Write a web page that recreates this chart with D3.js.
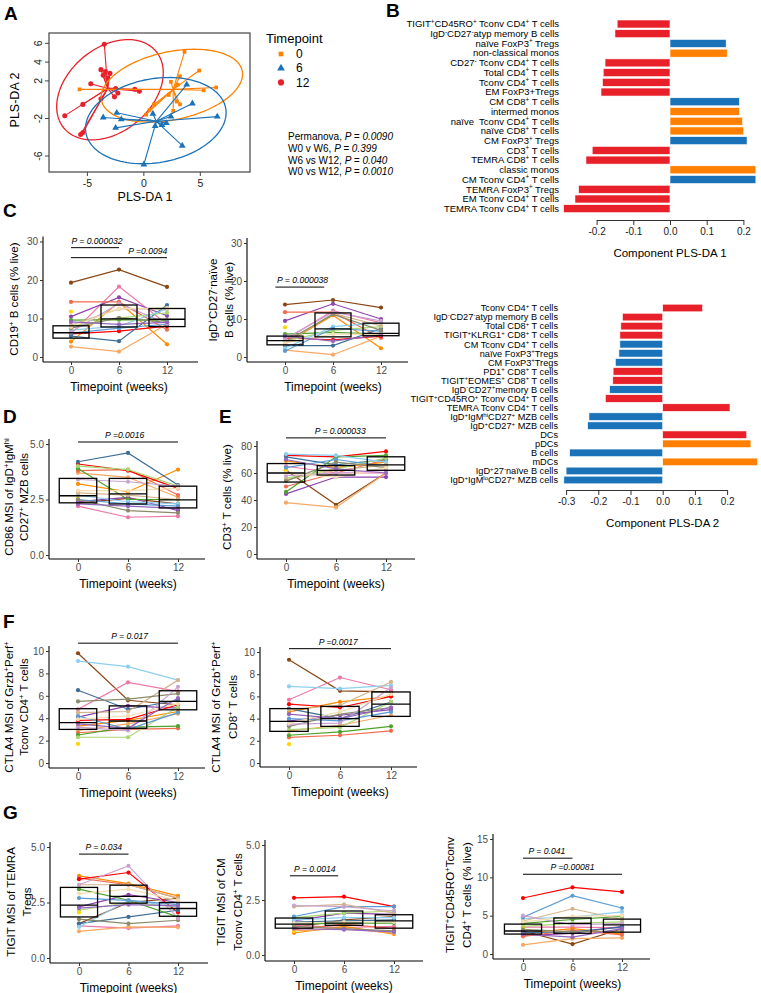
<!DOCTYPE html>
<html><head><meta charset="utf-8">
<script src="https://cdn.jsdelivr.net/npm/d3@7"></script>
<style>body{margin:0;background:#fff}svg{display:block;font-family:"Liberation Sans",Arial,Helvetica,sans-serif}</style>
</head><body><svg id="c" width="761" height="993"></svg>
<script>
// ---------------- DATA ----------------
const tpLabels = ["0", "6", "12"];
const tpColor = {"0": "#FF8000", "6": "#1A72B8", "12": "#E8202A"};

// Panel A: PLS-DA scores (component 1, component 2)
const pls0Points = [[3.6,5.1],[4.9,3.1],[3.2,2.5],[2.4,1.9],[-5.7,1.1],[5.3,1.0],[6.4,1.3],[0.9,-0.5],[0.5,-1.1],[0.2,-1.6],[3.2,-0.5],[2.6,-1.2],[2.9,-0.2],[3.0,1.6],[2.2,0.5]];
const pls6Points = [[0,-6.9],[-3.6,-1.9],[-2.4,-1.4],[-2.5,-3.0],[-2.0,-2.1],[4.3,-0.4],[6.5,-1.8],[3.4,-4.9],[3.8,1.6],[0.8,-1.5],[2.0,-2.5],[1.6,-2.7],[1.0,-2.8],[2.4,-1.8]];
const pls12Points = [[-3.5,5.9],[-3.8,3.2],[-3.4,3.0],[-3.6,2.6],[-3.2,2.3],[-4.7,1.7],[-2.3,0.7],[-2.6,0.3],[-3.8,0.1],[-5.4,-0.5],[-7.0,-1.7],[-5.4,-3.5],[-5.6,-3.7],[-0.8,1.1],[-0.4,0.9],[-2.5,1.2],[-3.0,2.8]];
const plsCentroids = {"0": [2.6,1.1], "6": [1.1,-2.3], "12": [-3.2,1.2]};
// ellipse: centre x, centre y, and the x/y loadings of cos t and sin t
const plsEllipses = {"0": [2.48,1.49,6.23,-0.63,1.59,3.54], "6": [1.06,-2.23,6.19,-0.65,1.31,4.40], "12": [-3.0,1.06,4.07,-2.39,4.10,3.42]};
const plsXTicks = [-5, 0, 5];
const plsYTicks = [6, 4, 2, -2, -6];
const statLines = [["Permanova, ","P = 0.0090"],["W0 v W6, ","P = 0.399"],["W6 vs W12, ","P = 0.040"],["W0 vs W12, ","P = 0.0010"]];

// Panel B: loadings
const comp1Labels = ["TIGIT^+CD45RO^+ Tconv CD4^+ T cells","IgD^-CD27^-atyp memory B cells","naïve FoxP3^+ Tregs","non-classical monos","CD27^- Tconv CD4^+ T cells","Total CD4^+ T cells","Tconv CD4^+ T cells","EM FoxP3+Tregs","CM CD8^+ T cells","intermed monos","naïve  Tconv CD4^+ T cells","naïve CD8^+ T cells","CM FoxP3^+ Tregs","CD3^+ T cells","TEMRA CD8^+ T cells","classic monos","CM Tconv CD4^+ T cells","TEMRA FoxP3^+ Tregs","EM Tconv CD4^+ T cells","TEMRA Tconv CD4^+ T cells"];
const comp1Values = [-0.144,-0.150,0.153,0.156,-0.177,-0.182,-0.184,-0.188,0.189,0.189,0.198,0.201,0.210,-0.212,-0.229,0.234,0.234,-0.249,-0.259,-0.290];
const comp1Groups = ["12","12","6","0","12","12","12","12","6","0","0","0","6","12","12","0","6","12","12","12"];
const comp1Ticks = [-0.2,-0.1,0,0.1,0.2];

const comp2Labels = ["Tconv CD4^+ T cells","IgD^-CD27^-atyp memory B cells","Total CD8^+ T cells","TIGIT^+KLRG1^+ CD8^+ T cells","CM Tconv CD4^+ T cells","naïve FoxP3^+Tregs","CM FoxP3^+Tregs","PD1^+ CD8^+ T cells","TIGIT^+EOMES^+ CD8^+ T cells","IgD^-CD27^+memory B cells","TIGIT^+CD45RO^+ Tconv CD4^+ T cells","TEMRA Tconv CD4^+ T cells","IgD^+IgM^{hi}CD27^+ MZB cells","IgD^+CD27^+ MZB cells","DCs","pDCs","B cells","mDCs","IgD^+27^-naïve B cells","IgD^+IgM^{lo}CD27^+ MZB cells"];
const comp2Values = [0.124,-0.125,-0.130,-0.133,-0.133,-0.136,-0.147,-0.154,-0.155,-0.165,-0.178,0.209,-0.229,-0.233,0.261,0.274,-0.289,0.295,-0.300,-0.307];
const comp2Groups = ["12","12","12","12","6","6","6","12","12","6","12","12","6","6","12","0","6","0","6","6"];
const comp2Ticks = [-0.3,-0.2,-0.1,0,0.1,0.2];

// Panels C-G: per-subject values at weeks 0, 6, 12
const weeks = [0, 6, 12];
const subjectColors = ["#8B4513","#EE77A8","#8E44AD","#FF8C00","#F6A864","#F26B4F","#FF0000","#3E6E96","#4DA22A","#A8D672","#FFD700","#8ECFF0","#5A9BD4","#D2B48C","#8A8A6A","#C9A3D0","#F5DEB3","#9467BD"];

const cd19Vals = [[19.3,22.7,18.2],[6,18.3,8.5],[10.5,15.5,10.7],[4.0,14.2,3.3],[2.7,1.4,8.5],[14.3,14.3,7.1],[6.0,6.7,8.0],[5.4,4.1,13.5],[9.6,9.7,9.5],[8.0,10.1,11.5],[11.8,null,null],[7.0,8.0,12.5],[6.2,7.5,8.5],[8.3,12.5,12.5],[7.5,10.2,9.0],[6.5,13.9,8.7],[7.8,12.6,12.7],[9.1,8.5,9.0]];
const cd19Box = [[4.9,6.3,8.1],[7.8,9.9,13.5],[7.9,9.8,12.6]];
const cd19P = [[0,6,28.4,"P = 0.000032",3.25],[0,12,25.8,"P =0.0094",9.6]];

const naiveVals = [[13.8,15.0,13.0],[4.5,12.2,9.0],[9.5,14.0,10.0],[3.5,11.0,2.3],[1.8,0.6,5.5],[11.8,11.8,5.0],[5.0,4.5,5.5],[3.0,3.0,7.5],[6.0,6.5,6.0],[4.2,7.0,8.0],[7.8,null,null],[2.3,8.0,9.0],[1.6,7.5,6.8],[3.5,11.5,8.2],[4.0,11.2,7.0],[4.8,11.8,9.5],[3.8,6.0,6.0],[5.5,4.2,5.8]];
const naiveBox = [[3.2,4.3,5.5],[5.3,7.4,11.6],[5.6,6.2,8.9]];
const naiveP = [[-1.2,4.9,18.4,"P = 0.000038",2.2]];

const cd86Vals = [[2.35,2.55,2.3],[2.2,1.7,1.75],[2.4,2.6,2.0],[3.2,2.85,3.85],[3.7,3.5,2.6],[3.8,3.85,2.7],[4.1,3.8,3.0],[4.2,4.6,3.15],[3.9,2.5,2.5],[4.0,3.85,3.1],[2.6,null,null],[2.7,2.4,2.3],[2.5,2.3,2.2],[2.8,2.7,2.5],[2.5,2.0,1.9],[3.4,3.3,3.1],[2.9,2.9,3.0],[2.3,2.2,2.1]];
const cd86Box = [[2.35,2.67,3.45],[2.3,2.75,3.45],[2.12,2.48,3.1]];
const cd86P = [[0,12,5.09,"P =0.0016",5.6]];

const cd3Vals = [[62,36.5,60],[65,60,60],[44.5,57,57],[69,64,68],[38,34.5,60],[50,60,70],[73,72,76],[72,66,70],[46,72,73],[56,63,71],[62,null,null],[74,73,68],[64,70,65],[55,62,66],[54,68,64],[58,60,62],[60,57,64],[70,63,60]];
const cd3Box = [[53.3,60,67],[58.5,62,65.5],[62,66,72]];
const cd3P = [[0,12,86,"P = 0.000033",6.5]];

const ctla4cd4Vals = [[9.8,5.6,5.2],[4.8,7.2,6.4],[4.1,5.1,4.9],[3.3,3.8,4.6],[2.9,3.5,4.4],[2.7,3.0,3.1],[3.8,3.9,5.2],[6.5,4.8,5.6],[2.5,3.2,3.3],[2.3,2.3,5.0],[1.7,null,null],[9.1,8.6,7.4],[4.2,3.0,4.5],[4.5,4.6,7.4],[5.5,5.7,6.2],[3.2,2.9,6.8],[3.9,4.2,5.3],[3.5,3.1,5.8]];
const ctla4cd4Box = [[3.0,3.6,4.85],[3.1,3.75,5.1],[4.75,5.5,6.45]];
const ctla4cd4P = [[0,12,10.7,"P = 0.017",6.2]];

const ctla4cd8Vals = [[9.3,6.5,6.4],[5.7,7.7,6.6],[3.8,4.3,4.8],[4.6,5.5,6.0],[2.9,3.4,4.3],[2.3,2.5,2.9],[5.3,5.0,6.0],[4.9,4.0,5.5],[2.5,2.8,3.3],[3.0,3.2,5.5],[1.7,null,null],[6.9,6.7,7.0],[4.0,3.8,4.6],[4.8,5.2,7.3],[3.3,4.4,5.0],[3.5,3.6,6.8],[3.6,4.6,6.2],[4.4,4.0,5.0]];
const ctla4cd8Box = [[2.85,3.75,4.9],[3.3,4.0,5.1],[4.2,5.3,6.4]];
const ctla4cd8P = [[0,12,10.3,"P =0.0017",5.8]];

const tigitTemraVals = [[1.55,2.5,2.7],[1.45,1.35,1.45],[2.3,2.85,2.5],[3.7,3.35,2.8],[1.2,1.4,1.38],[3.6,3.3,2.7],[3.55,3.85,2.05],[1.55,1.85,2.15],[3.1,2.6,1.85],[2.15,2.5,2.3],[2.05,null,null],[1.4,2.6,2.3],[2.7,2.6,2.4],[3.3,3.3,2.7],[1.75,1.55,1.7],[3.3,4.15,1.8],[2.9,3.1,2.6],[2.25,2.4,2.35]];
const tigitTemraBox = [[1.85,2.38,3.18],[2.47,2.78,3.28],[1.88,2.23,2.5]];
const tigitTemraP = [[0,6,4.68,"P = 0.034",3.0]];

const tigitCmVals = [[1.25,1.6,1.75],[1.35,1.25,1.3],[1.55,1.9,1.85],[1.0,1.3,0.95],[1.1,1.2,1.0],[1.15,1.4,1.2],[2.6,2.65,2.2],[1.5,1.55,1.6],[1.4,1.45,1.45],[1.7,1.9,2.0],[1.1,null,null],[1.6,1.7,1.7],[1.75,2.2,2.2],[2.2,2.3,1.9],[1.3,1.2,1.1],[2.25,2.2,2.0],[1.45,1.5,1.5],[1.2,1.15,1.05]];
const tigitCmBox = [[1.22,1.4,1.68],[1.35,1.45,2.0],[1.22,1.55,1.83]];
const tigitCmP = [[-0.5,5.3,3.6,"P = 0.0014",2.5]];

const tigitPctVals = [[3.0,1.3,3.3],[3.5,3.5,3.4],[2.4,2.7,3.6],[2.7,3.3,2.6],[1.2,2.0,2.1],[2.3,3.1,2.5],[7.3,8.7,8.1],[2.8,2.9,3.5],[4.0,4.5,4.9],[3.6,4.0,4.2],[3.3,null,null],[4.6,4.8,5.5],[4.8,7.6,6.0],[4.3,5.9,4.5],[3.2,2.9,3.0],[5.0,3.8,4.0],[4.2,4.9,5.0],[2.6,2.2,3.3]];
const tigitPctBox = [[2.6,3.0,3.9],[2.7,4.0,4.7],[2.85,3.8,4.55]];
const tigitPctP = [[0,6,12.5,"P = 0.041",2.9],[0,12,10.4,"P =0.00081",6.0]];

// ---------------- DRAWING ----------------
const svg = d3.select("#c");

function rich(sel, str, fs) {
  const parts = [];
  const re = /\^(\{([^}]*)\}|(.))/g;
  let last = 0, m;
  while ((m = re.exec(str))) {
    if (m.index > last) parts.push({t: str.slice(last, m.index), sup: false});
    parts.push({t: m[2] !== undefined ? m[2] : m[3], sup: true});
    last = re.lastIndex;
  }
  if (last < str.length) parts.push({t: str.slice(last), sup: false});
  let up = false;
  parts.forEach(p => {
    const ts = sel.append("tspan").text(p.t);
    if (p.sup) { ts.attr("font-size", fs * 0.66); if (!up) ts.attr("dy", -fs * 0.36); up = true; }
    else { if (up) ts.attr("dy", fs * 0.36); up = false; }
  });
  return sel;
}

function letter(t, x, y) {
  svg.append("text").attr("x", x).attr("y", y).attr("font-size", 19).attr("font-weight", "bold").text(t);
}
letter("A", 4, 20); letter("B", 386, 17); letter("C", 3, 217); letter("D", 3, 423);
letter("E", 219, 423); letter("F", 3, 628); letter("G", 3, 819);

// ---- Panel A ----
(function () {
  const x = d3.scaleLinear().domain([-8.4, 9.4]).range([49, 250]);
  const y = d3.scaleLinear().domain([-7.7, 7.1]).range([172, 33]);
  const g = svg.append("g");
  const groups = [["12", pls12Points], ["0", pls0Points], ["6", pls6Points]];
  const ts = d3.range(0, 2 * Math.PI + 0.001, Math.PI / 60);
  groups.forEach(([k, pts]) => {
    const col = tpColor[k], c = plsCentroids[k], e = plsEllipses[k];
    g.append("path").attr("fill", "none").attr("stroke", col).attr("stroke-width", 1.3)
      .attr("d", d3.line()(ts.map(t => [x(e[0] + e[2] * Math.cos(t) + e[3] * Math.sin(t)), y(e[1] + e[4] * Math.cos(t) + e[5] * Math.sin(t))])));
    pts.forEach(p => g.append("line").attr("x1", x(c[0])).attr("y1", y(c[1])).attr("x2", x(p[0])).attr("y2", y(p[1])).attr("stroke", col).attr("stroke-width", 1.1));
    const sym = k === "0" ? d3.symbol(d3.symbolSquare, 14) : k === "6" ? d3.symbol(d3.symbolTriangle, 20) : d3.symbol(d3.symbolCircle, 20);
    pts.forEach(p => g.append("path").attr("d", sym()).attr("transform", `translate(${x(p[0])},${y(p[1])})`).attr("fill", col));
  });
  g.append("rect").attr("x", 49).attr("y", 33).attr("width", 201).attr("height", 139).attr("fill", "none").attr("stroke", "#444").attr("stroke-width", 1.2);
  plsXTicks.forEach(v => {
    g.append("line").attr("x1", x(v)).attr("x2", x(v)).attr("y1", 172).attr("y2", 176).attr("stroke", "#444");
    g.append("text").attr("x", x(v)).attr("y", 187).attr("text-anchor", "middle").attr("font-size", 10.5).attr("fill", "#222").text(v);
  });
  plsYTicks.forEach(v => {
    g.append("line").attr("x1", 45).attr("x2", 49).attr("y1", y(v)).attr("y2", y(v)).attr("stroke", "#444");
    g.append("text").attr("transform", `translate(42,${y(v)}) rotate(-90)`).attr("text-anchor", "middle").attr("font-size", 10.5).attr("fill", "#222").text(v);
  });
  g.append("text").attr("x", 145).attr("y", 201).attr("text-anchor", "middle").attr("font-size", 12.5).text("PLS-DA 1");
  g.append("text").attr("transform", "translate(19,100) rotate(-90)").attr("text-anchor", "middle").attr("font-size", 12.5).text("PLS-DA 2");
  // legend
  g.append("text").attr("x", 266).attr("y", 43).attr("font-size", 13).text("Timepoint");
  tpLabels.forEach((k, i) => {
    const cy = 54 + i * 14.2;
    const sym = k === "0" ? d3.symbol(d3.symbolSquare, 22) : k === "6" ? d3.symbol(d3.symbolTriangle, 26) : d3.symbol(d3.symbolCircle, 30);
    g.append("path").attr("d", sym()).attr("transform", `translate(281,${cy})`).attr("fill", tpColor[k]);
    g.append("text").attr("x", 296).attr("y", cy + 4.2).attr("font-size", 12).text(k);
  });
  statLines.forEach((s, i) => {
    const t = g.append("text").attr("x", 288).attr("y", 140 + i * 11.8).attr("font-size", 10);
    t.append("tspan").text(s[0]);
    t.append("tspan").attr("font-style", "italic").text(s[1]);
  });
})();

// ---- Panel B ----
function barPanel(labels, values, groups, ticks, xDom, xRange, yRange, bh, axisY, title, titleY, labelX, fs) {
  const g = svg.append("g");
  const x = d3.scaleLinear().domain(xDom).range(xRange);
  const y = d3.scalePoint().domain(labels).range(yRange);
  labels.forEach((l, i) => {
    const v = values[i];
    g.append("rect").attr("x", x(Math.min(0, v))).attr("width", Math.abs(x(v) - x(0))).attr("y", y(l) - bh / 2).attr("height", bh)
      .attr("fill", tpColor[groups[i]]).attr("stroke", "#fff").attr("stroke-width", 0.6);
    rich(g.append("text").attr("x", labelX).attr("y", y(l) + 3.3).attr("text-anchor", "end").attr("font-size", fs).style("white-space", "pre"), l, fs);
  });
  const ax = g.append("g").attr("transform", `translate(0,${axisY})`)
    .call(d3.axisBottom(x).tickValues(ticks).tickFormat(d => d.toFixed(1)).tickSize(5).tickSizeOuter(0));
  ax.attr("font-family", null).attr("font-size", 10);
  ax.selectAll("text").attr("fill", "#222");
  ax.selectAll("line,path").attr("stroke", "#333");
  g.append("text").attr("x", x(0)).attr("y", titleY).attr("text-anchor", "middle").attr("font-size", 11.5).text(title);
}
barPanel(comp1Labels, comp1Values, comp1Groups, comp1Ticks, [-0.2, 0.2], [596.6, 743.4], [24, 208.7], 8, 220, "Component PLS-DA 1", 257, 559, 9.5);
barPanel(comp2Labels, comp2Values, comp2Groups, comp2Ticks, [-0.3, 0.2], [566.1, 727.1], [308, 480], 7.6, 490, "Component PLS-DA 2", 527, 558, 9.2);

// ---- Panels C-G ----
function drawPanel(p) {
  const g = svg.append("g");
  const x = d3.scaleLinear().domain([0, 12]).range([p.x0, p.x12]);
  const y = d3.scaleLinear().domain(p.yDom).range(p.yPx);
  const top = y(p.yDom[1]) - 5;
  p.vals.forEach((v, i) => {
    const pts = weeks.map((w, j) => [w, v[j]]).filter(d => d[1] != null);
    const col = subjectColors[i];
    g.append("path").attr("fill", "none").attr("stroke", col).attr("stroke-width", 1.2)
      .attr("d", d3.line().x(d => x(d[0])).y(d => y(d[1]))(pts));
    pts.forEach(d => g.append("circle").attr("cx", x(d[0])).attr("cy", y(d[1])).attr("r", 2.1).attr("fill", col));
  });
  const bw = x(4.5) - x(0);
  p.box.forEach((b, j) => {
    const cx = x(weeks[j]);
    g.append("rect").attr("x", cx - bw / 2).attr("width", bw).attr("y", y(b[2])).attr("height", y(b[0]) - y(b[2]))
      .attr("fill", "none").attr("stroke", "#000").attr("stroke-width", 1.3);
    g.append("line").attr("x1", cx - bw / 2).attr("x2", cx + bw / 2).attr("y1", y(b[1])).attr("y2", y(b[1])).attr("stroke", "#000").attr("stroke-width", 1.3);
  });
  g.append("line").attr("x1", p.left).attr("x2", p.left).attr("y1", top).attr("y2", p.axisY).attr("stroke", "#000").attr("stroke-width", 1.1);
  g.append("line").attr("x1", p.left).attr("x2", p.right).attr("y1", p.axisY).attr("y2", p.axisY).attr("stroke", "#000").attr("stroke-width", 1.1);
  const ya = g.append("g").attr("transform", `translate(${p.left},0)`)
    .call(d3.axisLeft(y).tickValues(p.ticks).tickFormat(p.fmt).tickSize(3).tickPadding(2));
  const xa = g.append("g").attr("transform", `translate(0,${p.axisY})`)
    .call(d3.axisBottom(x).tickValues(weeks).tickSize(3).tickPadding(2));
  [ya, xa].forEach(a => {
    a.attr("font-family", null).attr("font-size", 10);
    a.select(".domain").remove();
    a.selectAll("line").attr("stroke", "#333");
    a.selectAll("text").attr("fill", "#4D4D4D");
  });
  g.append("text").attr("x", (p.x0 + p.x12) / 2).attr("y", p.axisY + 28.5).attr("text-anchor", "middle").attr("font-size", 12).text("Timepoint (weeks)");
  p.title.forEach((t, k) => {
    rich(g.append("text").attr("transform", `translate(${p.titleX[k] + 4},${p.titleCY}) rotate(-90)`).attr("text-anchor", "middle").attr("font-size", 11.6), t, 11.6);
  });
  p.pv.forEach(q => {
    g.append("line").attr("x1", x(q[0])).attr("x2", x(q[1])).attr("y1", y(q[2])).attr("y2", y(q[2])).attr("stroke", "#000").attr("stroke-width", 1);
    g.append("text").attr("x", x(q[4])).attr("y", y(q[2]) - 4).attr("text-anchor", "middle").attr("font-style", "italic").attr("font-size", 8.6).text(q[3]);
  });
}

const f1 = d => d.toFixed(1), f0 = d => d;
drawPanel({vals: cd19Vals, box: cd19Box, pv: cd19P, ticks: [0,10,20,30], fmt: f0, yDom: [0,30], yPx: [357,241.5], left: 43, right: 198, x0: 71, x12: 167, axisY: 362, title: ["CD19^+ B cells (% live)"], titleX: [14], titleCY: 299});
drawPanel({vals: naiveVals, box: naiveBox, pv: naiveP, ticks: [0,10,20,30], fmt: f0, yDom: [0,30], yPx: [357,243], left: 247, right: 408, x0: 285, x12: 381, axisY: 362, title: ["IgD^+CD27^-naïve", "B cells (% live)"], titleX: [213, 229], titleCY: 300});
drawPanel({vals: cd86Vals, box: cd86Box, pv: cd86P, ticks: [0,2.5,5], fmt: f1, yDom: [0,5], yPx: [555,444], left: 49, right: 205, x0: 78, x12: 178, axisY: 559, title: ["CD86 MSI of IgD^+IgM^{hi}", "CD27^+ MZB cells"], titleX: [9, 24], titleCY: 497});
drawPanel({vals: cd3Vals, box: cd3Box, pv: cd3P, ticks: [0,20,40,60,80], fmt: f0, yDom: [0,80], yPx: [554,446], left: 257, right: 415, x0: 286, x12: 386, axisY: 559, title: ["CD3^+ T cells (% live)"], titleX: [227], titleCY: 497});
drawPanel({vals: ctla4cd4Vals, box: ctla4cd4Box, pv: ctla4cd4P, ticks: [0,2,4,6,8,10], fmt: f0, yDom: [0,10], yPx: [763,651], left: 49, right: 205, x0: 78, x12: 178, axisY: 768, title: ["CTLA4 MSI of  Grzb^+Perf^+", "Tconv CD4^+ T cells"], titleX: [9, 24], titleCY: 707});
drawPanel({vals: ctla4cd8Vals, box: ctla4cd8Box, pv: ctla4cd8P, ticks: [0,2,4,6,8,10], fmt: f0, yDom: [0,10], yPx: [763,652], left: 260, right: 417, x0: 289, x12: 391, axisY: 767, title: ["CTLA4 MSI of  Grzb^+Perf^+", "CD8^+ T cells"], titleX: [216, 233], titleCY: 707});
drawPanel({vals: tigitTemraVals, box: tigitTemraBox, pv: tigitTemraP, ticks: [0,2.5,5], fmt: f1, yDom: [0,5], yPx: [958,847], left: 50, right: 208, x0: 79, x12: 178, axisY: 963, title: ["TIGIT MSI of  TEMRA", "Tregs"], titleX: [11, 27], titleCY: 902});
drawPanel({vals: tigitCmVals, box: tigitCmBox, pv: tigitCmP, ticks: [0,2.5,5], fmt: f1, yDom: [0,5], yPx: [955,845], left: 265, right: 423, x0: 294, x12: 394, axisY: 961, title: ["TIGIT MSI of CM", "Tconv CD4^+ T cells"], titleX: [221, 238], titleCY: 902});
drawPanel({vals: tigitPctVals, box: tigitPctBox, pv: tigitPctP, ticks: [0,5,10,15], fmt: f0, yDom: [0,15], yPx: [954,839], left: 493, right: 650, x0: 523, x12: 622, axisY: 959, title: ["TIGIT^+CD45RO^+Tconv", "CD4^+ T cells (% live)"], titleX: [450, 467], titleCY: 895});
</script></body></html>
